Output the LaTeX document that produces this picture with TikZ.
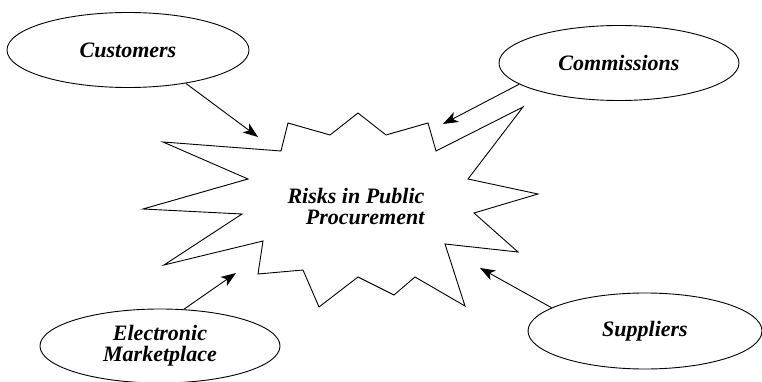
\documentclass[tikz,border=0pt]{standalone}
\usepackage{fontspec}
\setmainfont{Liberation Serif}
\usetikzlibrary{shapes.geometric,arrows.meta}

\begin{document}
\begin{tikzpicture}
[
    x=1pt, y=-1pt,
    label font/.style={font=\fontsize{22}{21}\selectfont\bfseries\itshape},
    actor/.style={draw, ellipse, inner sep=0pt, line width=0.9pt, label font, align=center},
    link/.style={-{Stealth[length=15pt, width=11pt, inset=4pt]}, line width=0.9pt},
]
\useasboundingbox (0,0) rectangle (762,382);
\node [actor, minimum width=242pt, minimum height=75pt] (customers) at (128,50) {Customers};
\node [actor, minimum width=240pt, minimum height=75pt] (commissions) at (619,63) {Commissions};
\node [actor, minimum width=240pt, minimum height=74pt] (electronic) at (160,346) {Electronic\\Marketplace};
\node [actor, minimum width=234pt, minimum height=76pt] (suppliers) at (645,331) {Suppliers};
% the burst
\draw [line width=0.9pt, line join=miter]
    (288,123) -- (330,135) -- (358,113) -- (386,135) -- (428,123) -- (436,151)
    -- (523,107) -- (468,179) -- (538,194) -- (474,213) -- (518,252) -- (445,244)
    -- (465,306) -- (415,277) -- (394,295) -- (358,277) -- (319,307) -- (303,270)
    -- (258,274) -- (263,241) -- (164,265) -- (242,214) -- (143,209) -- (248,179)
    -- (163,142) -- (281,151) -- cycle;
\node [label font, align=right] (risks) at (356,206) {Risks in Public\\Procurement};
\coordinate (tipcust) at (258,137);
\coordinate (tipcomm) at (443,124);
\coordinate (tipelec) at (236,273);
\coordinate (tipsupp) at (480,268);
\draw [link] (customers.-30) -- (tipcust);
\draw [link] (commissions.192) -- (tipcomm);
\draw [link] (electronic.57) -- (tipelec);
\draw [link] (suppliers.166) -- (tipsupp);
\end{tikzpicture}
\end{document}
